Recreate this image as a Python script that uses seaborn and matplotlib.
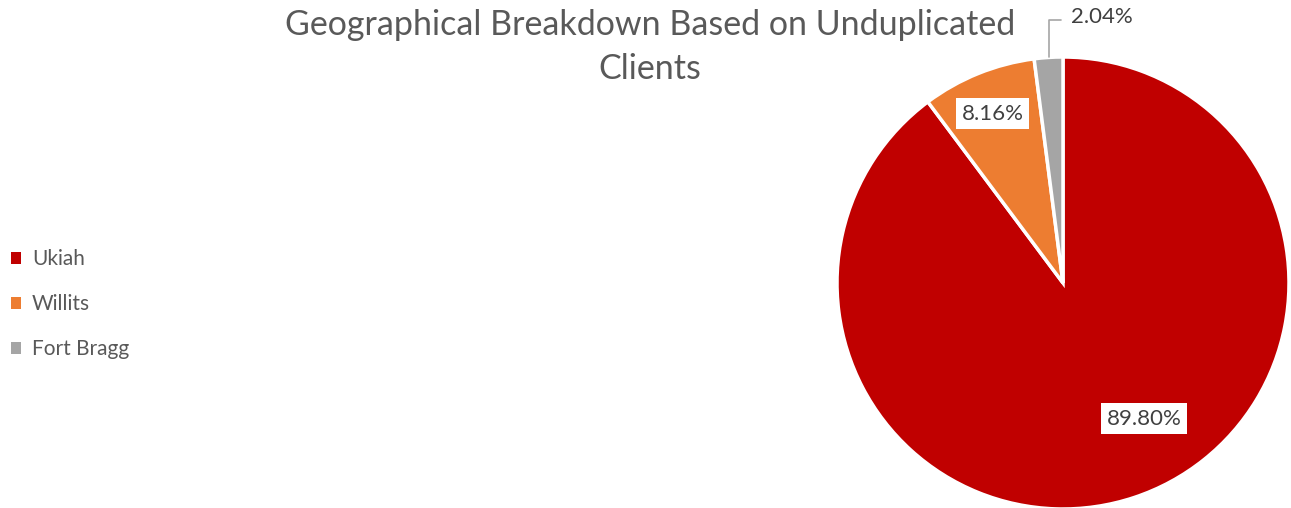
import matplotlib
matplotlib.use("Agg")
import matplotlib.pyplot as plt
import seaborn as sns
from matplotlib.patches import Patch

sns.set_theme(style="white")
plt.rcParams["font.family"] = ["Lato", "DejaVu Sans"]

regions = ["Ukiah", "Willits", "Fort Bragg"]
shares = [89.80, 8.16, 2.04]
colors = sns.color_palette(["#C00000", "#ED7D31", "#A5A5A5"])
label_pos = [(0.36, -0.60), (-0.31, 0.75), (0.17, 1.175)]

fig = plt.figure(figsize=(12.91, 5.08), dpi=100)
cx, cy, r = 1063, 283, 226
ax = fig.add_axes([(cx - r) / 1291, (508 - cy - r) / 508, 2 * r / 1291, 2 * r / 508])

wedges, _ = ax.pie(shares, colors=colors, startangle=90, counterclock=False,
                   wedgeprops=dict(edgecolor="white", linewidth=2.5))
ax.set_xlim(-1, 1)
ax.set_ylim(-1, 1)
ax.set_aspect("equal")
ax.axis("off")

for i, (val, (lx, ly)) in enumerate(zip(shares, label_pos)):
    boxed = i < 2
    ax.text(lx, ly, f"{val:.2f}%", ha="center", va="center", fontsize=16,
            color="#404040", clip_on=False,
            bbox=dict(facecolor="white", edgecolor="none", pad=4) if boxed else None)

# leader line for the small slice
ax.plot([-0.06, -0.06, -0.01], [1.0, 1.165, 1.165], color="#A6A6A6", lw=1.2, clip_on=False)

fig.text(650 / 1291, 1 - 47 / 508, "Geographical Breakdown Based on Unduplicated\nClients",
         ha="center", va="center", fontsize=24.5, color="#595959", linespacing=1.45)

handles = [Patch(facecolor=c, edgecolor="none") for c in colors]
fig.legend(handles, regions, loc="center left", bbox_to_anchor=(-0.006, 1 - 304 / 508),
           frameon=False, fontsize=15, labelcolor="#595959", handlelength=0.5,
           handleheight=0.5, handletextpad=0.5, labelspacing=1.2)

fig.savefig("out.png", dpi=100)
